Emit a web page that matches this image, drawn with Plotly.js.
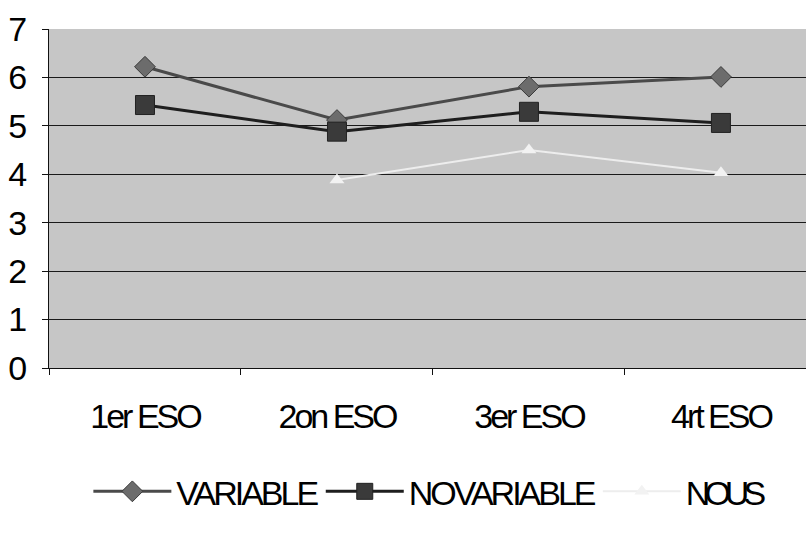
<!DOCTYPE html>
<html>
<head>
<meta charset="utf-8">
<script src="https://cdn.plot.ly/plotly-3.0.1.min.js"></script>
<style>
  html, body { margin: 0; padding: 0; background: #ffffff; overflow: hidden; }
  #chart { width: 806px; height: 534px; }
  /* tight, condensed look for category labels and legend entries */
  #chart .xtick text { letter-spacing: -3px; }
  #chart text.legendtext { letter-spacing: -3px; }
</style>
</head>
<body>
<div id="chart"></div>
<script>
// School years (ESO courses)
const cursos = ["1er ESO", "2on ESO", "3er ESO", "4rt ESO"];

// Mean scores per course
const variable   = [6.22, 5.12, 5.81, 6.01];
const novariable = [5.43, 4.88, 5.29, 5.06];
const nous       = [null, 3.88, 4.50, 4.03];

const yTicks = [0, 1, 2, 3, 4, 5, 6, 7];

const sans = '"Liberation Sans", Arial, sans-serif';

const traces = [
  {
    name: "VARIABLE",
    legend: "legend",
    x: cursos, y: variable,
    type: "scatter", mode: "lines+markers",
    line: { color: "#4a4a4a", width: 3 },
    marker: { symbol: "diamond", size: 16, color: "#6c6c6c", line: { color: "#3a3a3a", width: 1 } }
  },
  {
    name: "NOVARIABLE",
    legend: "legend2",
    x: cursos, y: novariable,
    type: "scatter", mode: "lines+markers",
    line: { color: "#1e1e1e", width: 3 },
    marker: { symbol: "square", size: 19, color: "#3a3a3a", line: { color: "#222222", width: 1 } }
  },
  {
    name: "NOUS",
    legend: "legend3",
    x: cursos, y: nous,
    type: "scatter", mode: "lines+markers",
    connectgaps: false,
    line: { color: "#ededed", width: 2 },
    marker: { symbol: "triangle-up", size: 13, color: "#f2f2f2", line: { width: 0 } }
  }
];

// per-entry letter spacing for the legend labels (condensed look)
const legendSpacing = { "VARIABLE": "-3px", "NOVARIABLE": "-3px", "NOUS": "-6px" };

// one legend box per series, laid out along the bottom
function legendAt(x) {
  return {
    orientation: "h",
    x: x, xanchor: "left",
    y: -0.365, yanchor: "middle",
    itemwidth: 78,
    font: { family: sans, size: 34, color: "#000000" },
    bgcolor: "rgba(0,0,0,0)"
  };
}

const layout = {
  width: 806, height: 534,
  margin: { l: 49, r: 0, t: 29, b: 166 },
  paper_bgcolor: "#ffffff",
  plot_bgcolor: "#c6c6c6",
  showlegend: true,
  font: { family: sans, color: "#000000" },
  xaxis: {
    type: "category",
    categoryarray: cursos,
    range: [-0.5, 3.443],
    showgrid: false,
    zeroline: false,
    showline: true, linecolor: "#111111", linewidth: 1,
    ticks: "outside", tickson: "boundaries", ticklen: 6, tickcolor: "#111111",
    tickfont: { family: sans, size: 34, color: "#000000" },
    ticklabelstandoff: 18,
    fixedrange: true
  },
  yaxis: {
    range: [0, 7],
    tickvals: yTicks,
    ticktext: yTicks.map(String),
    showgrid: true, gridcolor: "#1a1a1a", gridwidth: 1,
    zeroline: false,
    showline: true, linecolor: "#111111", linewidth: 1,
    ticks: "outside", ticklen: 6, tickcolor: "#111111",
    tickfont: { family: sans, size: 34, color: "#000000" },
    ticklabelstandoff: 8,
    fixedrange: true
  },
  legend: legendAt(0.052),
  legend2: legendAt(0.359),
  legend3: legendAt(0.725)
};

const chart = document.getElementById("chart");

// condense every legend label, whichever legend group holds it
function tightenLegend() {
  chart.querySelectorAll("text, tspan").forEach(function (t) {
    const s = legendSpacing[t.textContent.trim()];
    if (s && t.style.letterSpacing !== s) {
      t.setAttribute("letter-spacing", s);
      t.style.setProperty("letter-spacing", s, "important");
    }
  });
}

new MutationObserver(tightenLegend).observe(chart, { childList: true, subtree: true });

Plotly.newPlot(chart, traces, layout, { displayModeBar: false, staticPlot: true }).then(function (gd) {
  tightenLegend();
  gd.on("plotly_afterplot", tightenLegend);
  setTimeout(tightenLegend, 50);
});
</script>
</body>
</html>
